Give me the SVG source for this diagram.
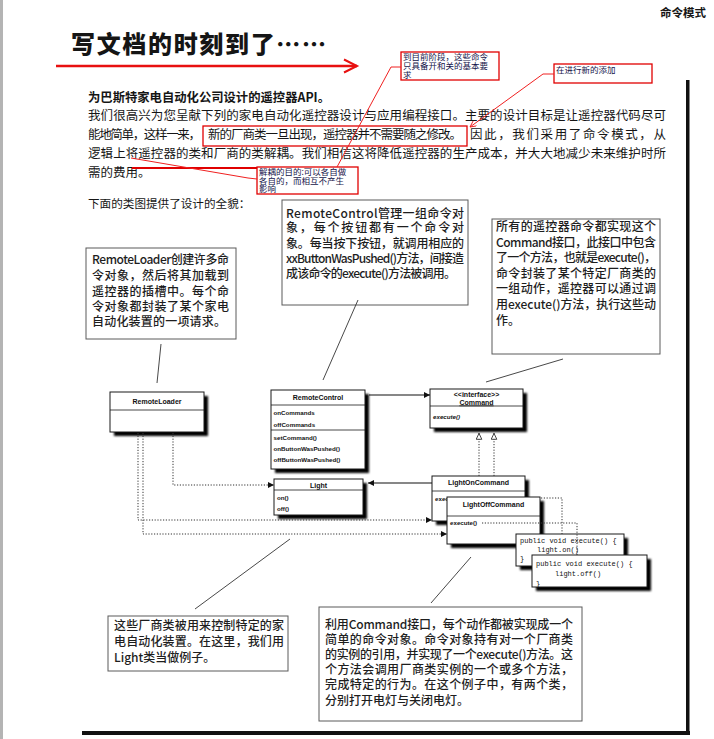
<svg xmlns="http://www.w3.org/2000/svg" width="714" height="739" viewBox="0 0 714 739">
<defs>
<style>
.cjk{font-family:"Noto Sans CJK SC","Noto Sans",sans-serif;fill:#151515}
.para{font-size:12.5px}
.note{font-size:12px;fill:#1e1e1e;font-weight:500}
.nbox{fill:#fff;stroke:#5a5a5a;stroke-width:1}
.ann{font-family:"Noto Sans CJK SC",sans-serif;font-size:8.5px;fill:#14144a}
.abox{fill:none;stroke:#e00000;stroke-width:1.3}
.rline{fill:none;stroke:#f02020;stroke-width:1}
.cls{fill:#fff;stroke:#1a1a1a;stroke-width:1}
.shd{fill:#000;filter:url(#blur)}
.div{stroke:#1a1a1a;stroke-width:0.8}
.uml{font-family:"Liberation Sans",Arial,sans-serif;font-size:6.2px;font-weight:bold;fill:#111}
.umln{font-family:"Liberation Sans",Arial,sans-serif;font-size:7px;font-weight:bold;fill:#111;text-anchor:middle}
.code{font-family:"Liberation Mono","DejaVu Sans Mono",monospace;font-size:7px;fill:#111}
.lead{stroke:#333;stroke-width:0.9;fill:none}
.solid{stroke:#111;stroke-width:1.2;fill:none}
.dot{stroke:#333;stroke-width:1;fill:none;stroke-dasharray:1.2 1.6}
</style>
<filter id="blur" x="-10%" y="-10%" width="130%" height="130%"><feGaussianBlur stdDeviation="0.8"/></filter>
<marker id="head" viewBox="0 0 10 10" refX="10" refY="5" markerWidth="8" markerHeight="6" markerUnits="userSpaceOnUse" orient="auto"><path d="M0,0 L10,5 L0,10 z" fill="#111"/></marker>
<marker id="tri" viewBox="0 0 10 10" refX="10" refY="5" markerWidth="7" markerHeight="7" markerUnits="userSpaceOnUse" orient="auto"><path d="M1,1 L9.5,5 L1,9 z" fill="#fff" stroke="#222" stroke-width="1.2"/></marker>
<marker id="rhead" viewBox="0 0 10 10" refX="10" refY="5" markerWidth="7" markerHeight="6" markerUnits="userSpaceOnUse" orient="auto"><path d="M0,0 L10,5 L0,10" fill="none" stroke="#f02020" stroke-width="1.5"/></marker>
</defs>

<rect width="714" height="739" fill="#fff"/>

<!-- page frame -->
<rect x="0" y="0" width="3" height="739" fill="#b4b4b4"/>
<rect x="686" y="80" width="3.5" height="655" fill="#111"/>
<rect x="82" y="731" width="608" height="4" fill="#111"/>

<!-- running header and heading -->
<text x="706" y="17" class="cjk" font-size="11.5" font-weight="700" text-anchor="end">命令模式</text>
<text x="71" y="53" class="cjk" font-size="24" font-weight="900" textLength="255" lengthAdjust="spacing" fill="#111">写文档的时刻到了……</text>
<line x1="56" y1="66" x2="357" y2="66" stroke="#e81010" stroke-width="2.4"/>
<path d="M344,59.5 L357,66 L344,72.5" fill="none" stroke="#e81010" stroke-width="2"/>

<!-- body paragraph -->
<g id="intro">
<text x="88" y="101.5" class="cjk" font-size="12.5" font-weight="700" textLength="242" lengthAdjust="spacingAndGlyphs">为巴斯特家电自动化公司设计的遥控器API。</text>
<text x="88" y="119.5" class="cjk para" textLength="578" lengthAdjust="spacing">我们很高兴为您呈献下列的家电自动化遥控器设计与应用编程接口。主要的设计目标是让遥控器代码尽可</text>
<text x="88" y="138.5" class="cjk para" textLength="113" lengthAdjust="spacing">能地简单，这样一来，</text>
<text x="208" y="138.5" class="cjk para" textLength="254" lengthAdjust="spacing">新的厂商类一旦出现，遥控器并不需要随之修改。</text>
<text x="470" y="138.5" class="cjk para" textLength="196" lengthAdjust="spacing">因此，我们采用了命令模式，从</text>
<text x="88" y="157.5" class="cjk para" textLength="578" lengthAdjust="spacing">逻辑上将遥控器的类和厂商的类解耦。我们相信这将降低遥控器的生产成本，并大大地减少未来维护时所</text>
<text x="88" y="176.5" class="cjk para">需的费用。</text>
<text x="88" y="207.5" class="cjk" font-size="11.6">下面的类图提供了设计的全貌：</text>
</g>

<!-- red review annotations -->
<g id="annotations">
<rect x="203" y="126" width="264" height="20" class="abox" stroke-width="2"/>
<rect x="401" y="52" width="98" height="28" class="abox"/>
<text class="ann"><tspan x="403" y="60.3">到目前阶段，这些命令</tspan><tspan x="403" y="69.3">只具备开和关的基本要</tspan><tspan x="403" y="78.3">求</tspan></text>
<rect x="554" y="64" width="98" height="19" class="abox"/>
<text x="556" y="72.5" class="ann">在进行新的添加</text>
<rect x="257" y="167" width="101" height="27" class="abox"/>
<text class="ann"><tspan x="259" y="175">解耦的目的:可以各自做</tspan><tspan x="259" y="183.6">各自的，而相互不产生</tspan><tspan x="259" y="192.2">影响</tspan></text>
<path d="M401,67 L391,67 L337,167" class="rline"/>
<path d="M554,74 L543,74 L470,127" class="rline" marker-end="url(#rhead)"/>
<line x1="132" y1="168" x2="257" y2="168" stroke="#e00000" stroke-width="2"/>
<path d="M131,158 L248,178 L257,179" class="rline"/>
</g>

<!-- explanatory notes -->
<g id="note-loader">
<rect x="86" y="248" width="150" height="91" class="nbox"/>
<text class="cjk note" font-size="12.5">
<tspan x="92" y="264" textLength="137" lengthAdjust="spacing">RemoteLoader创建许多命</tspan>
<tspan x="92" y="280" textLength="137" lengthAdjust="spacing">令对象，然后将其加载到</tspan>
<tspan x="92" y="295.5" textLength="137" lengthAdjust="spacing">遥控器的插槽中。每个命</tspan>
<tspan x="92" y="310.5" textLength="137" lengthAdjust="spacing">令对象都封装了某个家电</tspan>
<tspan x="92" y="326" textLength="134" lengthAdjust="spacing">自动化装置的一项请求。</tspan>
</text>
</g>

<g id="note-control">
<rect x="282" y="200" width="186" height="105" class="nbox"/>
<text class="cjk note">
<tspan x="286" y="217.5" textLength="178" lengthAdjust="spacing">RemoteControl管理一组命令对</tspan>
<tspan x="286" y="232" textLength="178" lengthAdjust="spacing">象，每个按钮都有一个命令对</tspan>
<tspan x="286" y="247.5" textLength="178" lengthAdjust="spacing">象。每当按下按钮，就调用相应的</tspan>
<tspan x="286" y="263" textLength="178" lengthAdjust="spacing">xxButtonWasPushed()方法，间接造</tspan>
<tspan x="286" y="278" textLength="170" lengthAdjust="spacing">成该命令的execute()方法被调用。</tspan>
</text>
</g>

<g id="note-command">
<rect x="492" y="219" width="168" height="135" class="nbox"/>
<text class="cjk note">
<tspan x="496" y="231" textLength="160" lengthAdjust="spacing">所有的遥控器命令都实现这个</tspan>
<tspan x="496" y="247" textLength="160" lengthAdjust="spacing">Command接口，此接口中包含</tspan>
<tspan x="496" y="262" textLength="160" lengthAdjust="spacing">了一个方法，也就是execute()，</tspan>
<tspan x="496" y="278" textLength="160" lengthAdjust="spacing">命令封装了某个特定厂商类的</tspan>
<tspan x="496" y="293" textLength="160" lengthAdjust="spacing">一组动作，遥控器可以通过调</tspan>
<tspan x="496" y="309" textLength="160" lengthAdjust="spacing">用execute()方法，执行这些动</tspan>
<tspan x="496" y="325">作。</tspan>
</text>
</g>

<g id="note-light">
<rect x="108" y="616" width="180" height="55" class="nbox"/>
<text class="cjk note">
<tspan x="114" y="630" textLength="170" lengthAdjust="spacing">这些厂商类被用来控制特定的家</tspan>
<tspan x="114" y="646" textLength="170" lengthAdjust="spacing">电自动化装置。在这里，我们用</tspan>
<tspan x="114" y="662">Light类当做例子。</tspan>
</text>
</g>

<g id="note-commands">
<rect x="319" y="607" width="263" height="114" class="nbox"/>
<text class="cjk note">
<tspan x="325" y="628.5" textLength="248" lengthAdjust="spacing">利用Command接口，每个动作都被实现成一个</tspan>
<tspan x="325" y="643.5" textLength="248" lengthAdjust="spacing">简单的命令对象。命令对象持有对一个厂商类</tspan>
<tspan x="325" y="659" textLength="248" lengthAdjust="spacing">的实例的引用，并实现了一个execute()方法。这</tspan>
<tspan x="325" y="674" textLength="248" lengthAdjust="spacing">个方法会调用厂商类实例的一个或多个方法，</tspan>
<tspan x="325" y="689" textLength="248" lengthAdjust="spacing">完成特定的行为。在这个例子中，有两个类，</tspan>
<tspan x="325" y="705">分别打开电灯与关闭电灯。</tspan>
</text>
</g>

<!-- class diagram -->
<g id="RemoteLoader">
<rect x="114" y="396" width="94" height="40" class="shd"/>
<rect x="110" y="392" width="94" height="40" class="cls"/>
<line x1="110" y1="410" x2="204" y2="410" class="div"/>
<text x="157" y="403.5" class="umln">RemoteLoader</text>
</g>

<g id="RemoteControl">
<rect x="275" y="394" width="94" height="79" class="shd"/>
<rect x="271" y="390" width="94" height="79" class="cls"/>
<line x1="271" y1="405" x2="365" y2="405" class="div"/>
<line x1="271" y1="430" x2="365" y2="430" class="div"/>
<text x="318" y="400" class="umln">RemoteControl</text>
<text class="uml"><tspan x="273.5" y="415">onCommands</tspan><tspan x="273.5" y="426.5">offCommands</tspan><tspan x="273.5" y="440">setCommand()</tspan><tspan x="273.5" y="451">onButtonWasPushed()</tspan><tspan x="273.5" y="462">offButtonWasPushed()</tspan></text>
</g>

<g id="Command">
<rect x="434" y="393" width="93" height="39" class="shd"/>
<rect x="430" y="389" width="93" height="39" class="cls"/>
<line x1="430" y1="406" x2="523" y2="406" class="div"/>
<text x="476.5" y="396.5" class="umln" font-size="6.2" font-weight="normal">&lt;&lt;interface&gt;&gt;</text>
<text x="476.5" y="404.5" class="umln" text-decoration="underline">Command</text>
<text x="433" y="419" class="uml" font-style="italic" font-weight="normal">execute()</text>
</g>

<g id="Light">
<rect x="278" y="483" width="89" height="36" class="shd"/>
<rect x="274" y="479" width="89" height="36" class="cls"/>
<line x1="274" y1="490" x2="363" y2="490" class="div"/>
<text x="318.5" y="488" class="umln">Light</text>
<text class="uml"><tspan x="277" y="500">on()</tspan><tspan x="277" y="511">off()</tspan></text>
</g>

<g id="LightOnCommand">
<rect x="436" y="480" width="93" height="45" class="shd"/>
<rect x="432" y="476" width="93" height="45" class="cls"/>
<line x1="432" y1="491" x2="525" y2="491" class="div"/>
<text x="478.5" y="484.5" class="umln">LightOnCommand</text>
<text x="435" y="501" class="uml">execute()</text>
</g>

<g id="LightOffCommand">
<rect x="451" y="501" width="93" height="47" class="shd"/>
<rect x="447" y="497" width="93" height="47" class="cls"/>
<line x1="447" y1="516" x2="540" y2="516" class="div"/>
<text x="493.5" y="506.5" class="umln">LightOffCommand</text>
<text x="450" y="525" class="uml">execute()</text>
</g>

<g id="LightOnCommand-execute">
<rect x="520" y="538" width="108" height="32" class="shd"/>
<rect x="516" y="534" width="108" height="32" class="cls"/>
<text class="code"><tspan x="520" y="543">public void execute() {</tspan><tspan x="537" y="551.5">light.on()</tspan><tspan x="520" y="560.5">}</tspan></text>
</g>

<!-- relationships and note leaders -->
<g id="connectors">
<line x1="369" y1="395" x2="430" y2="395" class="solid" marker-end="url(#head)"/>
<line x1="432" y1="483" x2="368" y2="483" class="solid" marker-end="url(#head)"/>
<line x1="479" y1="476" x2="479" y2="433" class="dot" marker-end="url(#tri)"/>
<line x1="494" y1="476" x2="494" y2="433" class="dot" marker-end="url(#tri)"/>
<path d="M173,433 L173,485 L274,485" class="dot" marker-end="url(#head)"/>
<path d="M138,433 L138,520 L432,520" class="dot" marker-end="url(#head)"/>
<path d="M143,433 L143,534 L447,534" class="dot" marker-end="url(#head)"/>
<path d="M541,498 L562,498 L562,534" class="dot"/>
<path d="M482,523 L577,523 L577,555" class="dot"/>
<line x1="161" y1="344" x2="157" y2="383" class="lead"/>
<line x1="358" y1="300" x2="323" y2="380" class="lead"/>
<line x1="563" y1="359" x2="486" y2="382" class="lead"/>
<line x1="290" y1="539" x2="195" y2="609" class="lead"/>
<line x1="471" y1="557" x2="431" y2="603" class="lead"/>
</g>

<g id="LightOffCommand-execute">
<rect x="536" y="559" width="115" height="32" class="shd"/>
<rect x="532" y="555" width="115" height="32" class="cls"/>
<text class="code" font-size="7.6"><tspan x="536" y="565.5">public void execute() {</tspan><tspan x="555" y="575.5">light.off()</tspan><tspan x="536" y="585.5">}</tspan></text>
</g>
</svg>
